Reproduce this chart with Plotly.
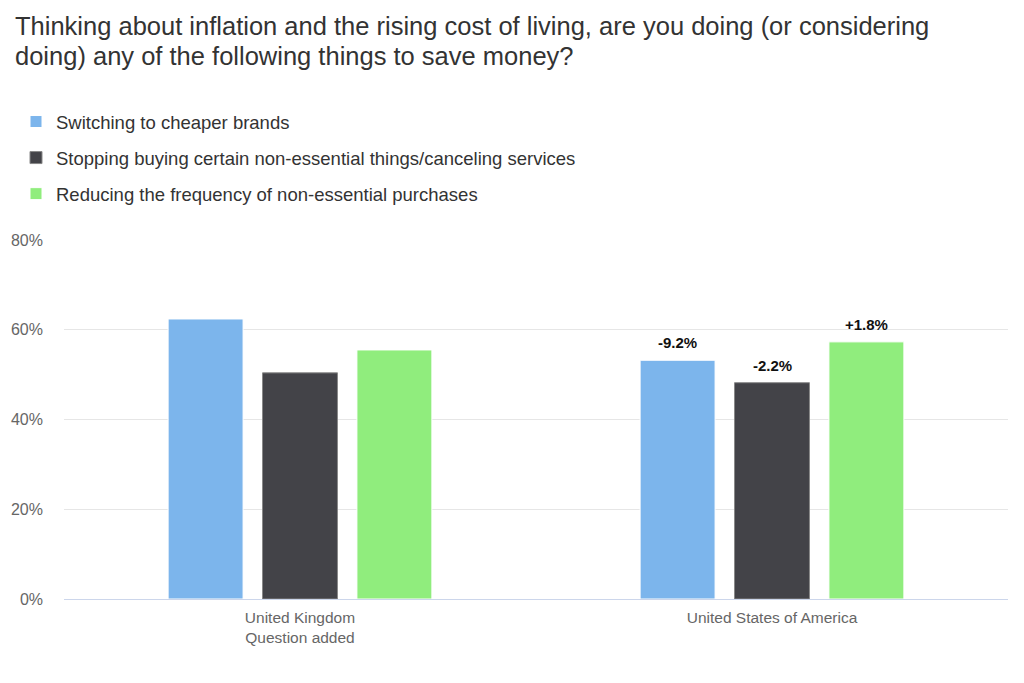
import plotly.graph_objects as go

categories = ["United Kingdom<br>Question added", "United States of America"]
series_names = [
    "Switching to cheaper brands",
    "Stopping buying certain non-essential things/canceling services",
    "Reducing the frequency of non-essential purchases",
]
cheaper_brands = [62.4, 53.2]
stopping_buying = [50.4, 48.2]
reducing_frequency = [55.5, 57.3]
change_labels = [
    ["", "-9.2%"],
    ["", "-2.2%"],
    ["", "+1.8%"],
]
y_ticks = [0, 20, 40, 60, 80]
y_tick_labels = ["0%", "20%", "40%", "60%", "80%"]
title_lines = [
    "Thinking about inflation and the rising cost of living, are you doing (or considering",
    "doing) any of the following things to save money?",
]

colors = ["#7cb5ec", "#434348", "#90ed7d"]
borders = ["#ffffff", "#888888", "#ffffff"]

W, H = 1016, 675
L, R, T, B = 56, 16, 232, 84
PW, PH = W - L - R, H - T - B
BARGAP, GROUPGAP = 0.40, 0.206
slot = (PW / len(categories)) * (1 - BARGAP) / 3

series_values = [cheaper_brands, stopping_buying, reducing_frequency]

fig = go.Figure()
for i, (name, vals) in enumerate(zip(series_names, series_values)):
    fig.add_trace(go.Bar(
        x=categories, y=vals, name=name,
        marker=dict(color=colors[i], line=dict(color=borders[i], width=1)),
        legendgroup=str(i), hoverinfo="skip",
    ))
    for cat, v, lab in zip(categories, vals, change_labels[i]):
        if lab:
            fig.add_annotation(
                x=cat, y=v, xref="x", yref="y", text=lab, showarrow=False,
                xshift=(i - 1) * slot, yanchor="bottom", yshift=7,
                font=dict(family="Liberation Sans", size=15, color="#111111", weight="bold"),
            )

for k, line in enumerate(title_lines):
    fig.add_annotation(
        text=line, xref="paper", yref="paper",
        x=(5 - L) / PW, y=1 + (T - (17.5 + 31 * k)) / PH, xanchor="left", yanchor="middle",
        align="left", showarrow=False,
        font=dict(size=25.5, color="#333333", family="Liberation Sans"),
    )

fig.update_layout(
    width=W, height=H,
    margin=dict(l=L, r=R, t=T, b=B, autoexpand=False),
    paper_bgcolor="white", plot_bgcolor="white",
    font=dict(family="Liberation Sans", color="#333333"),
    barmode="group", bargap=BARGAP, bargroupgap=GROUPGAP,
    showlegend=True,
    legend=dict(
        x=-48 / PW, xanchor="left", y=1 + (T - 95) / PH, yanchor="top",
        font=dict(size=18.5, color="#333333"),
        tracegroupgap=9, itemclick=False, itemdoubleclick=False,
        bgcolor="rgba(0,0,0,0)",
    ),
)
fig.update_xaxes(
    tickfont=dict(size=15.5, color="#666666"),
    showline=True, linecolor="#ccd6eb", linewidth=1, ticks="",
    showgrid=False, ticklabelstandoff=4, automargin=False,
)
fig.update_yaxes(
    range=[0, 80], tickvals=y_ticks, ticktext=y_tick_labels,
    tickfont=dict(size=16, color="#666666"),
    gridcolor="#e6e6e6", gridwidth=1, zeroline=False, showline=False,
    ticklabelstandoff=20, automargin=False,
)
fig.write_html("out.html")
